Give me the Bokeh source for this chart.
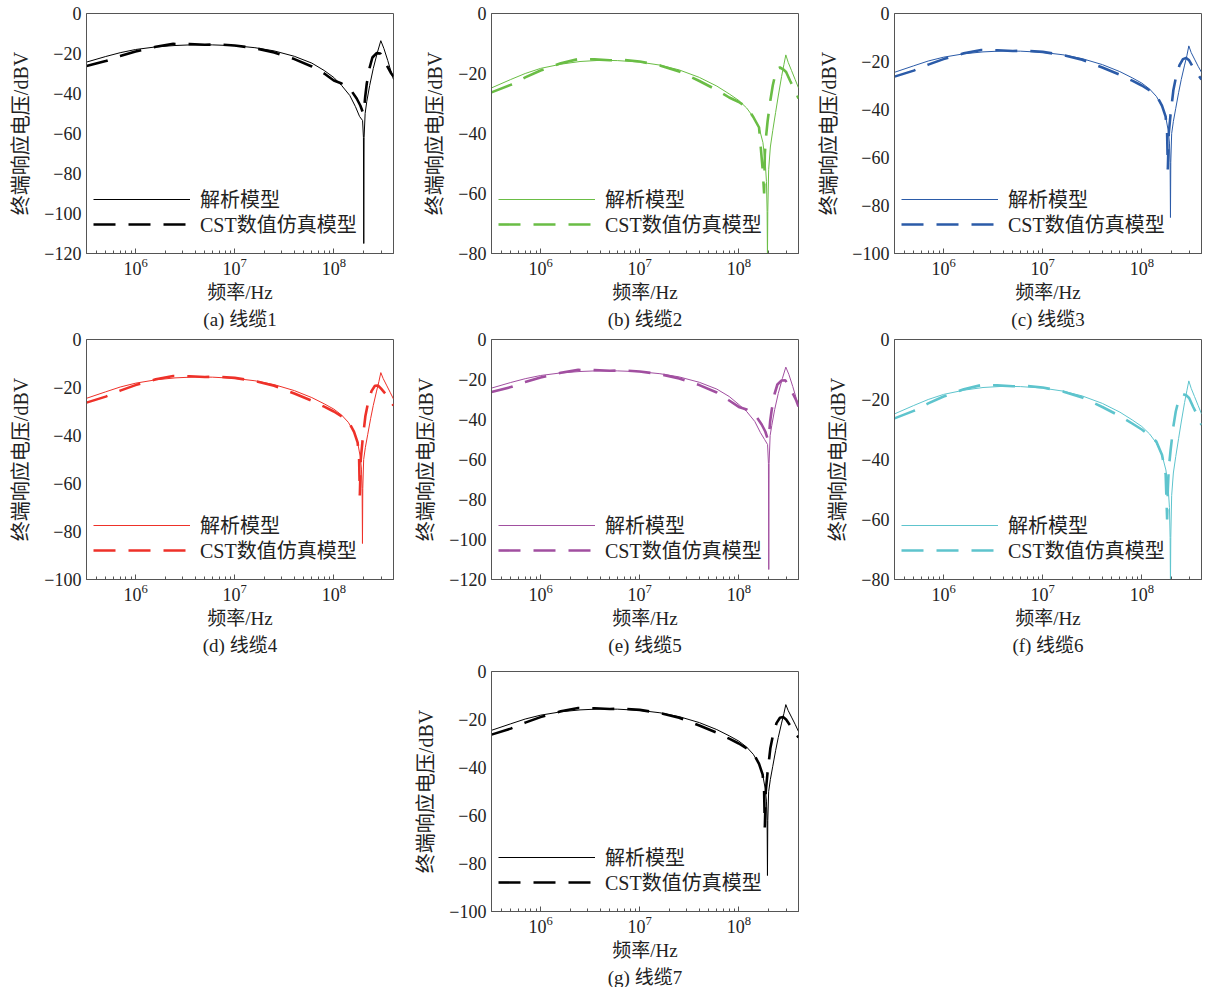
from bokeh.plotting import figure
from bokeh.models import FixedTicker, Title, Legend, LegendItem, Spacer
from bokeh.layouts import column, row
from bokeh.embed import file_html
from bokeh.resources import INLINE

# ---------------- data ----------------
X_MIN, X_MAX = 3.2e5, 4.0e8
X_MAJOR = [1e6, 1e7, 1e8]

# frequency grids (Hz)
F_SOLID_A = [3.2e5, 5e5, 7e5, 1e6, 1.6e6, 2.5e6, 4e6, 6e6, 1e7, 1.6e7, 2.5e7, 4e7, 6e7, 8e7,
             1e8, 1.2e8, 1.45e8, 1.65e8, 1.82e8, 1.95e8, 1.99e8, 2.005e8, 2.02e8, 2.07e8,
             2.15e8, 2.3e8, 2.5e8, 2.75e8, 2.98e8, 3.2e8, 3.5e8, 3.8e8, 4.0e8]
F_DASH_A = [3.2e5, 5e5, 7e5, 1e6, 1.6e6, 2.4e6, 3.5e6, 5e6, 7e6, 1e7, 1.6e7, 2.5e7, 4e7, 6e7, 8e7,
            1e8, 1.2e8, 1.45e8, 1.7e8, 1.85e8, 1.95e8, 2.0e8, 2.07e8, 2.15e8, 2.3e8, 2.45e8,
            2.7e8, 2.95e8, 3.2e8, 3.5e8, 3.8e8, 4.0e8]
F_SOLID_B = [3.2e5, 5e5, 7e5, 1e6, 1.6e6, 2.5e6, 4e6, 6e6, 1e7, 1.6e7, 2.5e7, 4e7, 6e7, 8e7,
             1e8, 1.2e8, 1.4e8, 1.6e8, 1.75e8, 1.85e8, 1.9e8, 1.93e8, 1.945e8, 1.96e8, 2.0e8,
             2.08e8, 2.2e8, 2.35e8, 2.5e8, 2.7e8, 2.85e8, 2.98e8, 3.15e8, 3.4e8, 3.7e8, 4.0e8]
F_DASH_B = [3.2e5, 5e5, 7e5, 1e6, 1.6e6, 2.4e6, 3.5e6, 5e6, 7e6, 1e7, 1.6e7, 2.5e7, 4e7, 6e7, 8e7,
            1e8, 1.2e8, 1.4e8, 1.6e8, 1.74e8, 1.8e8, 1.83e8, 1.87e8, 1.95e8, 2.08e8, 2.2e8,
            2.4e8, 2.6e8, 2.8e8, 3.0e8, 3.3e8, 3.7e8, 4.0e8]

# terminal response voltage (dBV)
A_SOLID = [-24.3, -21.5, -19.6, -18.0, -16.7, -16.0, -15.6, -15.7, -16.1, -17.1, -18.7, -21.4, -24.8, -28.5,
           -32.0, -36.0, -41.0, -46.5, -51.5, -53.5, -62.0, -115.0, -62.0, -50.0,
           -44.0, -36.0, -27.5, -19.5, -13.6, -17.5, -23.5, -29.5, -33.0]
A_DASH = [-26.3, -23.8, -21.3, -19.0, -16.6, -15.2, -15.3, -15.6, -15.5, -16.0, -17.3, -19.5, -22.8, -26.5, -30.0,
          -33.5, -35.0, -37.5, -42.5, -46.0, -49.0, -50.0, -42.0, -35.0, -27.0, -22.0,
          -19.8, -20.0, -23.5, -26.8, -30.0, -31.5]
E_SOLID = [-24.3, -21.5, -19.6, -18.0, -16.7, -16.0, -15.6, -15.7, -16.1, -17.1, -18.7, -21.4, -24.8, -28.5,
           -32.5, -36.0, -41.0, -46.5, -50.0, -52.5, -62.0, -115.0, -62.0, -48.0,
           -43.0, -35.0, -27.0, -19.5, -13.8, -17.5, -23.5, -29.5, -33.5]
E_DASH = [-26.3, -23.8, -21.3, -19.0, -16.6, -15.2, -15.3, -15.6, -15.5, -16.0, -17.3, -19.5, -22.8, -26.5, -30.5,
          -33.7, -35.0, -37.5, -42.5, -46.0, -49.5, -50.0, -41.0, -35.0, -27.0, -22.5,
          -20.5, -20.4, -23.5, -27.0, -30.5, -33.5]

B_SOLID = [-24.8, -22.0, -20.0, -18.3, -16.9, -16.0, -15.6, -15.7, -16.2, -17.2, -18.8, -21.3, -24.2, -26.8,
           -29.0, -31.5, -34.5, -38.0, -43.0, -50.0, -56.0, -66.0, -82.0, -66.0, -52.0,
           -44.5, -39.0, -33.0, -27.5, -21.0, -17.0, -13.8, -16.3, -19.0, -22.0, -24.8]
B_DASH = [-26.3, -23.8, -21.3, -19.0, -16.6, -15.2, -15.3, -15.6, -15.5, -16.0, -17.3, -19.3, -22.5, -25.5, -28.0,
          -29.5, -31.2, -34.5, -38.0, -52.0, -60.0, -47.0, -42.0, -36.0, -29.0, -24.0,
          -18.5, -18.0, -18.6, -19.5, -22.5, -25.8, -28.3]
C_SOLID = [-24.5, -21.8, -19.8, -18.2, -16.8, -16.0, -15.6, -15.7, -16.2, -17.2, -18.8, -21.3, -24.2, -26.8,
           -29.0, -31.5, -34.5, -38.5, -43.5, -49.0, -54.0, -62.0, -85.0, -62.0, -50.0,
           -45.0, -39.5, -33.0, -27.5, -21.5, -17.5, -13.5, -16.3, -19.0, -22.0, -24.5]
C_DASH = [-26.3, -23.8, -21.3, -19.0, -16.6, -15.2, -15.3, -15.6, -15.5, -16.0, -17.3, -19.3, -22.5, -25.5, -28.0,
          -30.0, -32.0, -34.0, -38.5, -43.0, -50.0, -65.0, -50.0, -42.0, -32.0, -27.0,
          -21.5, -19.0, -18.5, -19.5, -22.5, -25.5, -27.5]
D_SOLID = [-24.5, -21.8, -19.8, -18.2, -16.8, -16.0, -15.6, -15.7, -16.2, -17.2, -18.8, -21.3, -24.2, -26.8,
           -29.0, -31.5, -34.5, -38.5, -43.5, -49.0, -54.0, -62.0, -85.0, -62.0, -50.0,
           -45.0, -39.5, -33.0, -27.5, -21.5, -17.5, -13.8, -16.3, -19.0, -22.0, -24.8]
D_DASH = [-26.3, -23.8, -21.3, -19.0, -16.6, -15.2, -15.3, -15.6, -15.5, -16.0, -17.3, -19.3, -22.5, -25.5, -28.0,
          -30.0, -32.0, -34.0, -38.5, -43.0, -50.0, -65.0, -50.0, -42.0, -32.0, -27.0,
          -21.5, -19.3, -19.2, -20.5, -22.5, -25.5, -27.5]
F_SOLID = [-24.8, -22.0, -20.0, -18.3, -16.9, -16.0, -15.6, -15.7, -16.2, -17.2, -18.8, -21.3, -24.2, -26.8,
           -29.0, -31.5, -34.5, -38.5, -43.5, -50.0, -56.0, -66.0, -82.0, -66.0, -52.0,
           -44.5, -39.0, -33.0, -27.5, -21.0, -17.0, -13.8, -16.3, -19.0, -22.0, -24.8]
F_DASH = [-26.3, -23.8, -21.3, -19.0, -16.6, -15.2, -15.3, -15.6, -15.5, -16.0, -17.3, -19.3, -22.5, -25.5, -28.0,
          -30.0, -32.0, -34.0, -38.5, -45.0, -60.0, -50.0, -43.0, -37.0, -29.0, -24.0,
          -19.0, -18.2, -18.6, -19.5, -22.5, -25.8, -28.5]
G_SOLID = [-24.5, -21.8, -19.8, -18.2, -16.8, -16.0, -15.6, -15.7, -16.2, -17.2, -18.8, -21.3, -24.2, -26.8,
           -29.0, -31.5, -34.5, -38.5, -43.5, -49.0, -54.0, -62.0, -85.0, -62.0, -50.0,
           -45.0, -39.5, -33.0, -27.5, -21.5, -17.5, -13.8, -16.3, -19.0, -22.0, -25.0]
G_DASH = [-26.3, -23.8, -21.3, -19.0, -16.6, -15.2, -15.3, -15.6, -15.5, -16.0, -17.3, -19.3, -22.5, -25.5, -28.0,
          -30.0, -32.0, -34.0, -38.5, -43.0, -50.0, -65.0, -50.0, -42.0, -32.0, -27.0,
          -21.5, -19.3, -19.0, -20.0, -22.5, -25.5, -27.5]

Y_MINS = [-120, -80, -100, -100, -120, -80, -100]
CAPTIONS = ["(a) 线缆1", "(b) 线缆2", "(c) 线缆3", "(d) 线缆4", "(e) 线缆5", "(f) 线缆6", "(g) 线缆7"]
COLORS = ["#000000", "#6abd45", "#2b5ba8", "#ee3129", "#a14fa0", "#5ec4cd", "#000000"]
LEGEND_LABELS = ["解析模型", "CST数值仿真模型"]
X_LABEL = "频率/Hz"
Y_LABEL = "终端响应电压/dBV"

SERIES = [
    (F_SOLID_A, A_SOLID, F_DASH_A, A_DASH),
    (F_SOLID_B, B_SOLID, F_DASH_B, B_DASH),
    (F_SOLID_B, C_SOLID, F_DASH_B, C_DASH),
    (F_SOLID_B, D_SOLID, F_DASH_B, D_DASH),
    (F_SOLID_A, E_SOLID, F_DASH_A, E_DASH),
    (F_SOLID_B, F_SOLID, F_DASH_B, F_DASH),
    (F_SOLID_B, G_SOLID, F_DASH_B, G_DASH),
]

SERIF = "'Liberation Serif', 'Noto Sans CJK SC'"
FRAME_COLOR = "#555555"


def legend_for(label, renderer, y_off):
    return Legend(items=[LegendItem(label=label, renderers=[renderer])],
                  location=(7, y_off), orientation="vertical",
                  glyph_width=97, glyph_height=20, label_height=20, spacing=0,
                  padding=0, margin=0, label_standoff=10,
                  background_fill_alpha=0, border_line_alpha=0,
                  label_text_font=SERIF, label_text_font_size="20px",
                  label_text_color="#222222")


def make_panel(i, top_b, bottom_b, right_b):
    fs, ds, fd, dd = SERIES[i]
    color = COLORS[i]
    ymin = Y_MINS[i]
    p = figure(x_axis_type="log", x_range=(X_MIN, X_MAX), y_range=(ymin, 0),
               frame_width=307, frame_height=240,
               min_border_left=86, min_border_right=right_b,
               min_border_top=top_b, min_border_bottom=bottom_b,
               output_backend="svg", toolbar_location=None,
               background_fill_color="white", border_fill_color="white")
    p.grid.visible = False
    p.outline_line_color = FRAME_COLOR
    p.outline_line_width = 1

    r1 = p.line(fs, ds, line_color=color, line_width=1.0)
    r2 = p.line(fd, dd, line_color=color, line_width=2.6, line_dash="22 13")

    minor = [m * 10.0 ** e for e in (5, 6, 7, 8) for m in range(2, 10)]
    minor = [t for t in minor if X_MIN <= t <= X_MAX]
    xa = p.xaxis[0]
    xa.ticker = FixedTicker(ticks=X_MAJOR, minor_ticks=minor)
    xa.major_tick_in = 5
    xa.major_tick_out = 0
    xa.minor_tick_in = 3
    xa.minor_tick_out = 0
    xa.axis_label = X_LABEL

    yticks = list(range(ymin, 1, 20))
    ya = p.yaxis[0]
    ya.ticker = FixedTicker(ticks=yticks)
    ya.major_label_overrides = {t: ("\u2212%d" % (-t) if t < 0 else "0") for t in yticks}
    ya.major_tick_in = 0
    ya.major_tick_out = 0
    ya.minor_tick_in = 0
    ya.minor_tick_out = 0
    ya.axis_label = Y_LABEL
    ya.axis_label_standoff = 9

    for ax in (xa, ya):
        ax.axis_line_color = FRAME_COLOR
        ax.major_tick_line_color = FRAME_COLOR
        ax.minor_tick_line_color = FRAME_COLOR
        ax.major_label_text_font = SERIF
        ax.major_label_text_font_size = "18px"
        ax.major_label_text_color = "#222222"
        ax.axis_label_text_font = SERIF
        ax.axis_label_text_color = "#222222"
        ax.axis_label_text_font_style = "normal"
    xa.axis_label_text_font_size = "19px"
    ya.axis_label_text_font_size = "20px"
    xa.major_label_standoff = 4
    xa.axis_label_standoff = 4
    ya.major_label_standoff = 5

    p.add_layout(legend_for(LEGEND_LABELS[0], r1, 40))
    p.add_layout(legend_for(LEGEND_LABELS[1], r2, 15))

    p.add_layout(Title(text=CAPTIONS[i], align="center", text_font=SERIF,
                       text_font_size="19px", text_font_style="normal",
                       text_color="#222222", standoff=2), "below")
    return p


row1 = row(make_panel(0, 13, 76, 12), make_panel(1, 13, 76, 10), make_panel(2, 13, 76, 10))
row2 = row(make_panel(3, 9, 83, 12), make_panel(4, 9, 83, 10), make_panel(5, 9, 83, 10))
row3 = row(Spacer(width=405, height=10), make_panel(6, 9, 77, 10))
layout = column(row1, row2, row3)

open("out.html", "w").write(file_html(layout, INLINE))
